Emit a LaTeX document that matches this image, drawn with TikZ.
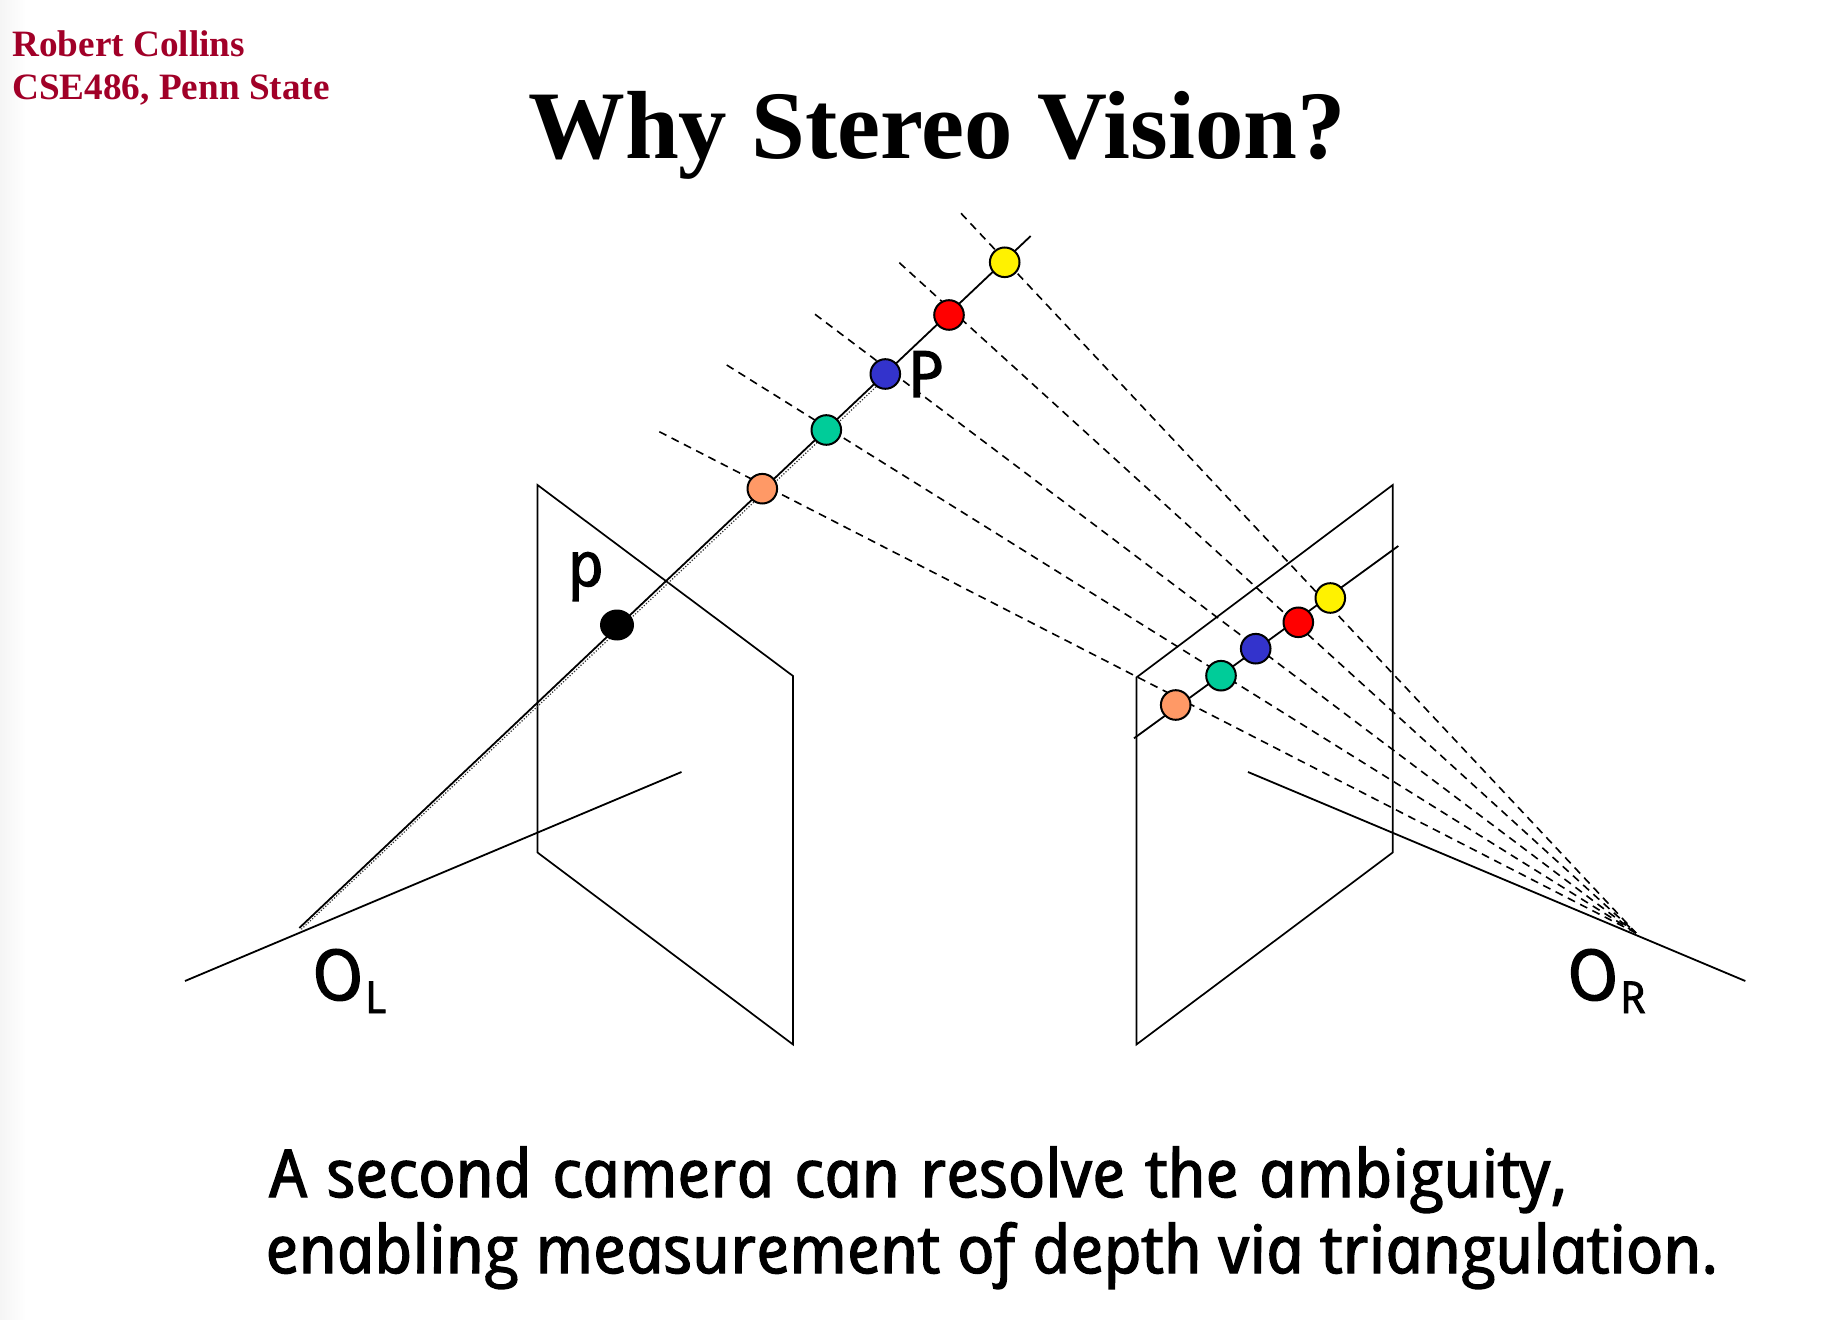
\documentclass[tikz,border=0pt]{standalone}
\usepackage{fontspec}
\usetikzlibrary{shapes.geometric}
\setmainfont{Liberation Serif}
\newfontfamily\comicf[ItalicFeatures={FakeSlant=-0.21,FakeBold=2.2}]{Open Sans}
\definecolor{hdr}{HTML}{A10028}
\definecolor{cOrange}{HTML}{FF9966}
\definecolor{cGreen}{HTML}{00CC99}
\definecolor{cBlue}{HTML}{3333CC}
\newcommand{\hand}[1]{{\comicf\itshape #1}}
\newcommand{\camlabel}[1]{\hand{O}\kern0.3pt\raisebox{-6.5pt}{\fontsize{22}{26}\selectfont\hand{#1}}}
\tikzset{
  x=0.5pt,y=-0.5pt,
  plane/.style={draw=black,line width=0.85pt,line join=miter},
  solidline/.style={draw=black,line width=0.9pt},
  rayshade/.style={draw=black!80,line width=0.6pt,dash pattern=on 0.6pt off 0.9pt},
  dashline/.style={draw=black,line width=0.8pt,dash pattern=on 4pt off 2.9pt},
  ball/.style={circle,draw=black,line width=1pt,minimum size=14.8pt,inner sep=0pt},
  handtext/.style={inner sep=0pt,anchor=base west,black},
}
\begin{document}
\begin{tikzpicture}
\useasboundingbox (0,0) rectangle (1836,1320);
\fill[white] (0,0) rectangle (1836,1320);
\shade[left color=black!4,right color=white] (0,0) rectangle (26,1320);

% planes and axes
\draw[plane] (537.5,485) -- (793,676) -- (793,1044.5) -- (537.5,852.5) -- cycle;
\draw[plane] (1136.4,677.5) -- (1392.7,485) -- (1392.7,852.5) -- (1136.4,1044.5) -- cycle;
\coordinate (axLa) at (185,981);
\coordinate (axLb) at (681.5,772);
\coordinate (axRa) at (1248,772);
\coordinate (axRb) at (1745.3,981);
\draw[solidline] (axLa) -- (axLb);
\draw[solidline] (axRa) -- (axRb);

% rays
\coordinate (OLray) at (299.3,928);
\coordinate (rayTop) at (1030.7,236);
\coordinate (shA) at (301.3,929.3);
\coordinate (shB) at (887,376.5);
\draw[rayshade] (shA) -- (shB);
\draw[solidline] (OLray) -- (rayTop);
\coordinate (epiA) at (1134,738.3);
\coordinate (epiB) at (1398.3,546);
\draw[solidline] (epiA) -- (epiB);

% dashed rays to the right camera
\coordinate (OR) at (1636,933);
\coordinate (d1) at (961,213.3);
\coordinate (d2) at (899.3,262.7);
\coordinate (d3) at (815,314.3);
\coordinate (d4) at (726.7,365);
\coordinate (d5) at (659.3,431.7);
\foreach \d in {d1,d2,d3,d4,d5} \draw[dashline] (\d) -- (OR);

% points
\node[ball,fill=yellow] (wY) at (1004.7,262.3) {};
\node[ball,fill=red] (wR) at (949,315) {};
\node[ball,fill=cBlue] (wB) at (885.3,374) {};
\node[ball,fill=cGreen] (wG) at (826.3,430) {};
\node[ball,fill=cOrange] (wO) at (762.3,488.7) {};
\node[ellipse,fill=black,inner sep=0pt,minimum width=17pt,minimum height=15.5pt] (imgP) at (617,625) {};
\node[ball,fill=yellow] (rY) at (1330.3,598) {};
\node[ball,fill=red] (rR) at (1298.3,622.3) {};
\node[ball,fill=cBlue] (rB) at (1255.7,648.7) {};
\node[ball,fill=cGreen] (rG) at (1221,675.7) {};
\node[ball,fill=cOrange] (rO) at (1175.7,705) {};

% header and title
\node[anchor=base west,inner sep=0pt,align=left,text=hdr,font=\fontsize{18.6}{21.5}\selectfont\bfseries] (hdr) at (12,100) {Robert Collins\\CSE486, Penn State};
\node[anchor=base,inner sep=0pt,font=\fontsize{48.4}{60}\selectfont\bfseries] (title) at (937,159) {Why Stereo Vision?};

% labels
\node[handtext,font=\fontsize{32}{38}\selectfont] (lP) at (911,397) {\hand{P}};
\node[handtext,font=\fontsize{31}{38}\selectfont] (lp) at (571,586) {\hand{p}};
\node[handtext,font=\fontsize{35}{38}\selectfont] (lOL) at (316,1000) {\camlabel{L}};
\node[handtext,font=\fontsize{35}{38}\selectfont] (lOR) at (1571,1000) {\camlabel{R}};

% caption
\node[handtext,align=left,font=\fontsize{33.1}{38}\selectfont] (cap) at (269,1273) {\hspace*{1.8pt}\hand{\spaceskip=10.2pt A second camera can resolve the ambiguity,}\\\hand{enabling measurement of depth via triangulation.}};
\end{tikzpicture}
\end{document}
